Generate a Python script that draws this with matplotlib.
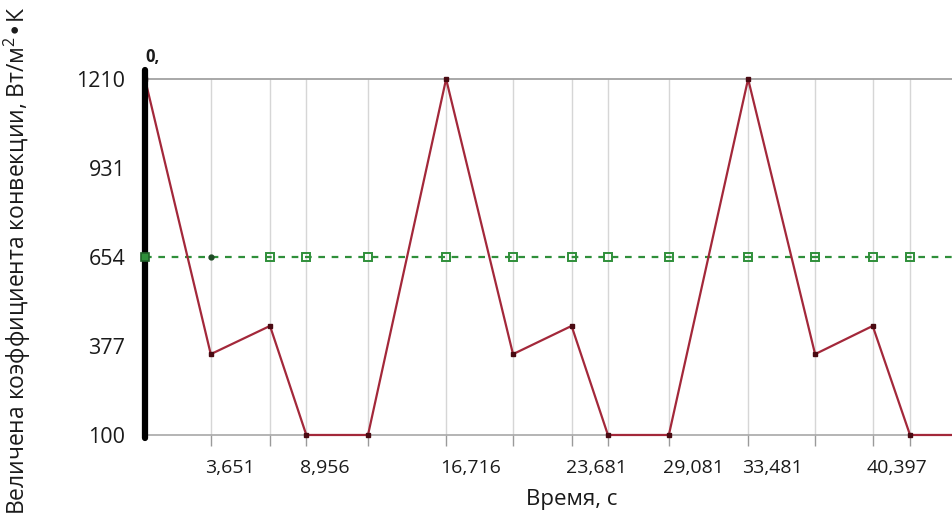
import matplotlib
matplotlib.use("Agg")
import matplotlib.pyplot as plt
from matplotlib.transforms import ScaledTranslation

plt.rcParams['font.family'] = ['Open Sans', 'DejaVu Sans']
plt.rcParams['mathtext.default'] = 'regular'

# Time, s
t = [0, 3.651, 6.94, 8.956, 12.38, 16.716, 20.43, 23.681, 25.7, 29.081,
     33.481, 37.2, 40.397, 42.47, 44.8]
# Convection coefficient, W/(m2*K)
h = [1210, 352, 440, 100, 100, 1210, 352, 440, 100, 100,
     1210, 352, 440, 100, 100]
# Mean value over the cycle
h_mean = [654] * len(t)

x_ticks = t[1:-1]
x_tick_labels = ['3,651', '', '8,956', '', '16,716', '', '23,681', '',
                 '29,081', '33,481', '', '40,397', '']
y_ticks = [100, 377, 654, 931, 1210]

fig = plt.figure(figsize=(9.52, 5.22), dpi=100)
ax = fig.add_axes([0.1523, 0.1667, 0.8477, 0.682])
ax.set_xlim(0, 44.8)
ax.set_ylim(100, 1210)

# vertical grid at every sample time
ax.vlines(x_ticks, 100, 1210, color='#d6d6d6', lw=1, zorder=0)

# mean line (green, dashed, hollow squares)
ax.plot(t, h_mean, color='#2f8f3a', lw=1.6, ls=(0, (3, 3)), zorder=2)
ax.plot(t[2:-1], h_mean[2:-1], ls='none', marker='s', ms=6,
        mfc='none', mec='#2f8f3a', mew=1.4, zorder=3)
ax.plot(t[0], h_mean[0], ls='none', marker='s', ms=6,
        mfc='#2f8f3a', mec='#1f5f27', mew=1.2, clip_on=False, zorder=6)
ax.plot(t[1], h_mean[1], ls='none', marker='o', ms=3.5,
        mfc='#1f4a25', mec='#1f4a25', zorder=3)

# convection coefficient
ax.plot(t, h, color='#a3283a', lw=1.6, marker='s', ms=3.5,
        mfc='#4a0a12', mec='#4a0a12', markevery=list(range(len(t) - 1)),
        clip_on=False, zorder=4)

# heavy left axis bar
ax.plot([0, 0], [91, 1238], color='black', lw=4.5, solid_capstyle='round',
        clip_on=False, zorder=5)

for side in ['left', 'right']:
    ax.spines[side].set_visible(False)
ax.spines['top'].set_color('#9a9a9a')
ax.spines['top'].set_linewidth(1.2)
ax.spines['bottom'].set_color('#a8a8a8')
ax.spines['bottom'].set_linewidth(1.2)

ax.set_xticks(x_ticks)
ax.set_xticklabels(x_tick_labels)
ax.set_yticks(y_ticks)
ax.set_yticklabels([str(v) for v in y_ticks])
ax.tick_params(axis='x', length=8, width=1, color='#9a9a9a', pad=9,
               labelsize=14, labelcolor='#1a1a1a')
ax.tick_params(axis='y', length=0, pad=14, labelsize=15.5,
               labelcolor='#1a1a1a')

shift = ScaledTranslation(-6 / 100, 0, fig.dpi_scale_trans)
for lbl in ax.get_xticklabels():
    lbl.set_ha('left')
    lbl.set_transform(lbl.get_transform() + shift)

fig.text(145 / 952, 1 - 57 / 522, '0,', fontsize=12, fontweight='bold',
         ha='left', va='center', color='#1a1a1a')
fig.text(572 / 952, 1 - 500 / 522, 'Время, с', fontsize=16,
         ha='center', va='center', color='#1a1a1a')
fig.text(17 / 952, 0.5, 'Величена коэффициента конвекции, Вт/м$^2$•К',
         fontsize=16.5, rotation=90, ha='center', va='center', color='#1a1a1a')

fig.savefig('out.png', dpi=100)
